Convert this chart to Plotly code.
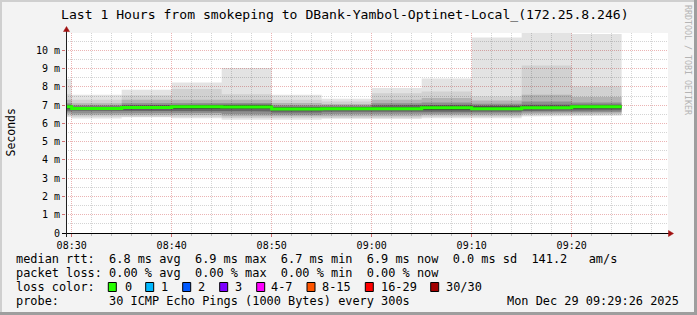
import plotly.graph_objects as go
import pandas as pd

# ---------------- data ----------------
bin_start = [
    "2025-12-29 08:25", "2025-12-29 08:30", "2025-12-29 08:35", "2025-12-29 08:40",
    "2025-12-29 08:45", "2025-12-29 08:50", "2025-12-29 08:55", "2025-12-29 09:00",
    "2025-12-29 09:05", "2025-12-29 09:10", "2025-12-29 09:15", "2025-12-29 09:20",
]
bin_minutes = 5

median_rtt = [6.91, 6.82, 6.87, 6.91, 6.90, 6.79, 6.81, 6.81, 6.86, 6.81, 6.86, 6.91]

smoke_max = [8.43, 7.57, 7.84, 8.24, 9.03, 7.57, 7.35, 7.94, 8.46, 10.71, 10.98, 10.90]
smoke_hi2 = [7.60, 7.30, 7.55, 7.88, 7.60, 7.30, 7.20, 7.66, 7.75, 7.48, 9.17, 8.02]
smoke_hi3 = [7.30, 7.10, 7.30, 7.30, 7.30, 7.12, 7.06, 7.30, 7.39, 7.25, 7.57, 7.45]
smoke_hi4 = [7.10, 7.00, 7.10, 7.12, 7.12, 7.00, 6.98, 7.10, 7.15, 7.08, 7.20, 7.15]
smoke_hi5 = [7.02, 6.93, 7.00, 7.04, 7.04, 6.92, 6.92, 6.98, 7.02, 6.97, 7.02, 7.04]
smoke_hi6 = [6.97, 6.89, 6.94, 6.99, 6.99, 6.87, 6.88, 6.90, 6.94, 6.90, 6.93, 6.98]
smoke_lo6 = [6.80, 6.74, 6.78, 6.82, 6.80, 6.72, 6.74, 6.74, 6.78, 6.74, 6.78, 6.82]
smoke_lo5 = [6.70, 6.66, 6.68, 6.70, 6.66, 6.60, 6.64, 6.64, 6.68, 6.64, 6.68, 6.72]
smoke_lo4 = [6.60, 6.55, 6.56, 6.57, 6.52, 6.48, 6.52, 6.52, 6.56, 6.54, 6.60, 6.62]
smoke_lo3 = [6.50, 6.45, 6.48, 6.46, 6.40, 6.38, 6.42, 6.40, 6.45, 6.44, 6.52, 6.54]
smoke_lo2 = [6.42, 6.36, 6.40, 6.37, 6.30, 6.29, 6.33, 6.31, 6.36, 6.36, 6.44, 6.47]
smoke_min = [6.35, 6.27, 6.34, 6.29, 6.20, 6.20, 6.26, 6.24, 6.29, 6.29, 6.38, 6.42]

y_tick_vals = [0, 1, 2, 3, 4, 5, 6, 7, 8, 9, 10]
y_tick_text = ["0", "1 m", "2 m", "3 m", "4 m", "5 m", "6 m", "7 m", "8 m", "9 m", "10 m"]

loss_labels = ["0", "1", "2", "3", "4-7", "8-15", "16-29", "30/30"]
loss_colors = ["#26ff00", "#00b8ff", "#0059ff", "#7e00ff", "#ff00ff", "#ff5500", "#ff0000", "#a10000"]

title_text = "Last 1 Hours from smokeping to DBank-Yambol-Optinet-Local_(172.25.8.246)"
legend_rtt = "median rtt:  6.8 ms avg  6.9 ms max  6.7 ms min  6.9 ms now  0.0 ms sd  141.2   am/s"
legend_loss = "packet loss: 0.00 % avg  0.00 % max  0.00 % min  0.00 % now"
legend_probe = "probe:       30 ICMP Echo Pings (1000 Bytes) every 300s"
stamp_text = "Mon Dec 29 09:29:26 2025"

x_start = "2025-12-29 08:29:26"
x_end = "2025-12-29 09:29:38"

# ---------------- layout geometry ----------------
W, H = 697, 315
L, R, T, B = 66, 29, 33, 82
PW = W - L - R
PH = H - T - B
MONO = "DejaVu Sans Mono"


def px_x(px):
    return (px - L) / PW


def px_y(py):
    return (T + PH - py) / PH


starts = pd.to_datetime(bin_start)
ends = starts + pd.Timedelta(minutes=bin_minutes)


def band_path(hi, lo):
    xs, ys = [], []
    for s, e, v in zip(starts, ends, hi):
        xs += [s, e]
        ys += [v, v]
    for s, e, v in reversed(list(zip(starts, ends, lo))):
        xs += [e, s]
        ys += [v, v]
    return xs, ys


fig = go.Figure()

layers = [
    (smoke_max, smoke_min, 0.11),
    (smoke_hi2, smoke_lo2, 0.08),
    (smoke_hi3, smoke_lo3, 0.14),
    (smoke_hi4, smoke_lo4, 0.20),
    (smoke_hi5, smoke_lo5, 0.28),
    (smoke_hi6, smoke_lo6, 0.38),
]
for hi, lo, a in layers:
    xs, ys = band_path(hi, lo)
    fig.add_trace(go.Scatter(
        x=xs, y=ys, mode="lines", fill="toself",
        fillcolor=f"rgba(0,0,0,{a})", line=dict(width=0),
        hoverinfo="skip", showlegend=False,
    ))

mx = list(starts) + [ends[-1]]
my = list(median_rtt) + [median_rtt[-1]]
fig.add_trace(go.Scatter(
    x=mx, y=my, mode="lines", line=dict(color="#26ff00", width=3, shape="hv"),
    showlegend=False, name="median rtt",
))

red_grid = "#ebb4b4"
grey_grid = "#d4d4d4"

fig.update_xaxes(
    type="date", range=[x_start, x_end],
    tickformat="%H:%M", tick0="2025-12-29 08:30", dtick=600000,
    showgrid=True, gridcolor=red_grid, griddash="1px,1px", gridwidth=1,
    ticks="outside", ticklen=3, tickcolor="#d07070",
    tickfont=dict(family=MONO, size=10, color="#000000"),
    minor=dict(dtick=120000, tick0="2025-12-29 08:30", showgrid=True,
               gridcolor=grey_grid, griddash="1px,1px", ticks="outside",
               ticklen=2, tickcolor="#bbbbbb"),
    showline=False, zeroline=False, fixedrange=True,
)
fig.update_yaxes(
    range=[0, PH / 18.26],
    tickvals=y_tick_vals, ticktext=y_tick_text,
    showgrid=True, gridcolor=red_grid, griddash="1px,1px", gridwidth=1,
    ticks="outside", ticklen=3, tickcolor="#d07070",
    tickfont=dict(family=MONO, size=10, color="#000000"),
    minor=dict(dtick=0.5, showgrid=True, gridcolor=grey_grid, griddash="1px,1px"),
    showline=False, zeroline=False, fixedrange=True,
)

shapes = []
# frame shading
shapes.append(dict(type="rect", xref="paper", yref="paper", x0=px_x(0), x1=px_x(W), y0=px_y(0), y1=px_y(2),
                   fillcolor="#cfcfcf", line=dict(width=0), layer="above"))
shapes.append(dict(type="rect", xref="paper", yref="paper", x0=px_x(0), x1=px_x(2), y0=px_y(0), y1=px_y(H),
                   fillcolor="#cfcfcf", line=dict(width=0), layer="above"))
shapes.append(dict(type="rect", xref="paper", yref="paper", x0=px_x(0), x1=px_x(W), y0=px_y(H - 3), y1=px_y(H),
                   fillcolor="#9e9e9e", line=dict(width=0), layer="above"))
shapes.append(dict(type="rect", xref="paper", yref="paper", x0=px_x(W - 3), x1=px_x(W), y0=px_y(0), y1=px_y(H),
                   fillcolor="#9e9e9e", line=dict(width=0), layer="above"))
# axis lines
shapes.append(dict(type="line", xref="paper", yref="paper", x0=px_x(62), x1=px_x(669), y0=px_y(233.5), y1=px_y(233.5),
                   line=dict(color="#000000", width=1), layer="above"))
shapes.append(dict(type="line", xref="paper", yref="paper", x0=px_x(66.5), x1=px_x(66.5), y0=px_y(237), y1=px_y(30),
                   line=dict(color="#202020", width=1), layer="above"))
# arrow heads
shapes.append(dict(type="path", xref="paper", yref="paper", layer="above",
                   path=f"M {px_x(673.5)} {px_y(233.5)} L {px_x(668.5)} {px_y(230.5)} L {px_x(668.5)} {px_y(236.5)} Z",
                   fillcolor="#a01010", line=dict(color="#a01010", width=0.5)))
shapes.append(dict(type="path", xref="paper", yref="paper", layer="above",
                   path=f"M {px_x(66.5)} {px_y(26.5)} L {px_x(63.5)} {px_y(31.5)} L {px_x(69.5)} {px_y(31.5)} Z",
                   fillcolor="#a01010", line=dict(color="#a01010", width=0.5)))

# loss colour squares
sq_left = [108.3, 145.7, 182.7, 219.7, 256.7, 307.0, 365.3, 430.7]
lbl_left = [124.0, 160.0, 197.0, 234.0, 270.7, 321.7, 380.7, 445.3]
for xl, col in zip(sq_left, loss_colors):
    shapes.append(dict(type="rect", xref="paper", yref="paper", layer="above",
                       x0=px_x(xl), x1=px_x(xl + 8), y0=px_y(291.5), y1=px_y(282.5),
                       fillcolor=col, line=dict(color="#000000", width=1)))

ann = []


def text(x, y, s, size, xanchor="left", color="#000000", angle=0, yanchor="middle"):
    ann.append(dict(x=px_x(x), y=px_y(y), xref="paper", yref="paper", text=s, showarrow=False,
                    xanchor=xanchor, yanchor=yanchor, textangle=angle,
                    font=dict(family=MONO, size=size, color=color)))


text(345, 14, title_text, 13.1, xanchor="center")
text(10, 132.5, "Seconds", 11.5, xanchor="center", angle=-90)
text(688, 60, "RRDTOOL / TOBI OETIKER", 8.3, xanchor="center", color="#b4b4b4", angle=90)
lx = 14.2
text(lx, 259.3, legend_rtt.replace(" ", "&nbsp;"), 11.9)
text(lx, 273.3, legend_loss.replace(" ", "&nbsp;"), 11.9)
text(lx, 287.3, "loss&nbsp;color:", 11.9)
for xl, lab in zip(lbl_left, loss_labels):
    text(xl - 1.5, 287.3, lab, 11.9)
text(lx, 300.7, legend_probe.replace(" ", "&nbsp;"), 11.9)
text(681, 300.7, stamp_text.replace(" ", "&nbsp;"), 11.9, xanchor="right")

fig.update_layout(
    width=W, height=H,
    margin=dict(l=L, r=R, t=T, b=B, pad=0),
    paper_bgcolor="#f3f3f3", plot_bgcolor="#ffffff",
    showlegend=False, shapes=shapes, annotations=ann,
)

fig.write_html("out.html", config={"displayModeBar": False})
